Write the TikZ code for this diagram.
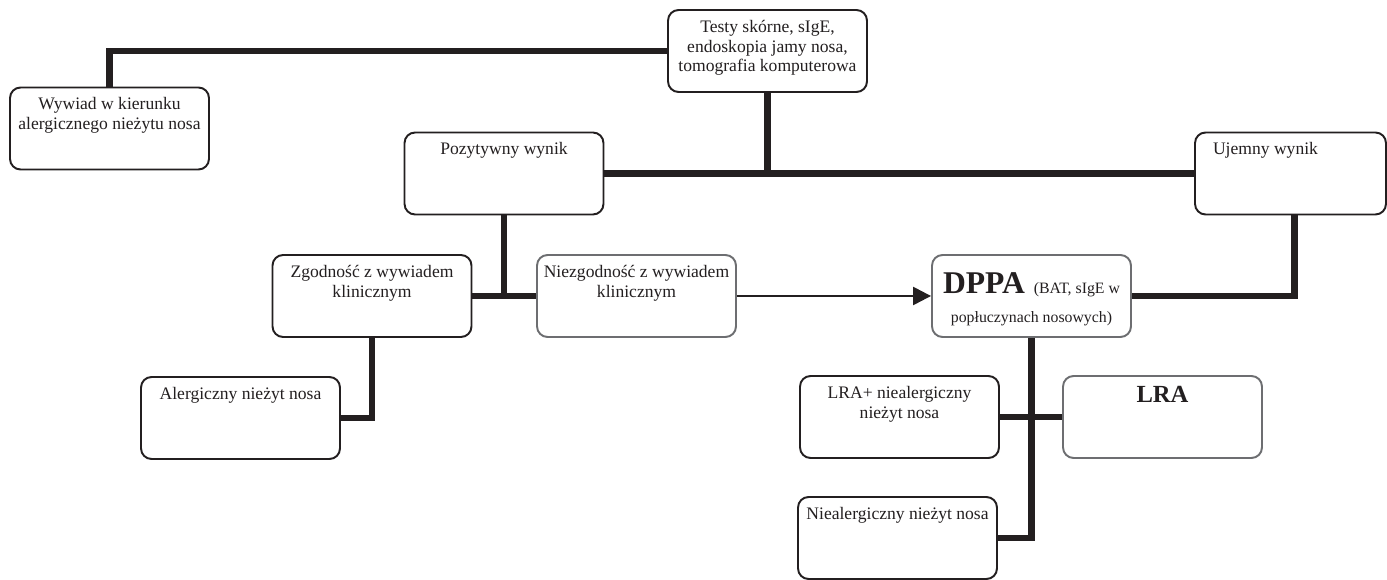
\documentclass[tikz,border=0pt]{standalone}
\usepackage{fontspec}
\setmainfont{Liberation Serif}
\usetikzlibrary{arrows.meta}
\definecolor{ink}{HTML}{231F20}
\definecolor{greyline}{HTML}{6D6E71}

\begin{document}
\begin{tikzpicture}[x=0.02cm, y=-0.02cm, ink, font=\fontsize{10}{11.3}\selectfont, box/.style = {draw=ink, line width=1.1pt, rounded corners=6pt, fill=white, inner sep=0pt, minimum width=3.98cm, minimum height=1.64cm, execute at begin node={\begin{minipage}[c][1.24cm][t]{3.8cm}\centering}, execute at end node={\end{minipage}}}, greybox/.style = {box, draw=greyline}, link/.style = {draw=ink, line width=3.6pt}, arrowline/.style = {draw=ink, line width=1.4pt, -{Triangle[length=0.36cm, width=0.36cm]}}]
                \useasboundingbox (0,0) rectangle (1387,580);
                \node[box] (wywiad) at (109.5,128.5) {Wywiad w kierunku\\alergicznego nieżytu nosa};
                \node[box] (testy) at (767.5,51) {Testy skórne, sIgE,\\endoskopia jamy nosa,\\tomografia komputerowa};
                \node[box] (pozytywny) at (504,173.5) {Pozytywny wynik};
                \node[box, minimum width=3.82cm] (ujemny) at (1290.5,173.5) {Ujemny wynik\hspace*{1cm}};
                \node[box] (zgodnosc) at (372,296) {Zgodność z wywiadem\\klinicznym};
                \node[greybox] (niezgodnosc) at (636.5,296) {Niezgodność z wywiadem\\klinicznym};
                \node[greybox] (dppa) at (1031.5,296) {\vspace*{0.15cm}{\fontsize{18}{20}\selectfont\bfseries DPPA}\hspace{5pt}{\fontsize{9}{11}\selectfont (BAT, sIgE w}\\[5pt]{\fontsize{9}{11}\selectfont popłuczynach nosowych)}};
                \node[box] (alergiczny) at (240.5,418) {Alergiczny nieżyt nosa};
                \node[box] (lraplus) at (899.5,417) {LRA+ niealergiczny\\nieżyt nosa};
                \node[greybox] (lra) at (1162.5,417) {\fontsize{14}{16}\selectfont\bfseries LRA};
                \node[box] (niealergiczny) at (897.5,538) {Niealergiczny nieżyt nosa};
                \draw[link] (testy.west) -| (wywiad.north);
                \draw[link] (pozytywny.east) -- (ujemny.west);
                \draw[link] (testy.south) -- (testy.south |- pozytywny.east);
                \draw[link] (zgodnosc.east) -- (niezgodnosc.west);
                \draw[link] (pozytywny.south) -- (pozytywny.south |- zgodnosc.east);
                \draw[link] ([xshift=0.08cm]ujemny.south) |- (dppa.east);
                \draw[link] (zgodnosc.south) |- (alergiczny.east);
                \draw[link] (dppa.south) |- (niealergiczny.east);
                \draw[link] (lraplus.east) -- (lra.west);
                \draw[arrowline] (niezgodnosc.east) -- (dppa.west);
            \end{tikzpicture}
\end{document}
